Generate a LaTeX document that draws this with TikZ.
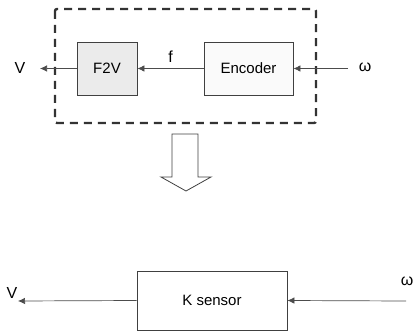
\documentclass[tikz,border=0pt]{standalone}
\usepackage{fontspec}
\setmainfont{Liberation Sans}
\usetikzlibrary{arrows.meta}
\begin{document}
\begin{tikzpicture}[x=1pt,y=-1pt,
  blk/.style={draw=black!75,line width=0.8pt,minimum width=#1,minimum height=53pt,inner sep=0pt,font=\fontsize{15}{17}\selectfont},
  conn/.style={draw=black!70,line width=0.7pt,-{Latex[length=7pt,width=6.5pt]}},
  lab/.style={font=\fontsize{16}{18}\selectfont,inner sep=0pt}]
\useasboundingbox (0,0) rectangle (417,334);
% dashed container
\draw[black!80,line width=2.4pt,dash pattern=on 8pt off 6pt,rounded corners=2pt] (55,9) rectangle (316,123);
\node[blk=60pt,fill=black!8] (f2v) at (107,68.5) {F2V};
\node[blk=89pt,fill=black!2] (enc) at (248.5,68.5) {Encoder};
\node[lab] (V1) at (20,68) {V};
\node[lab] (w1) at (365,67) {ω};
\coordinate (v1end) at (40,68.5);
\coordinate (w1start) at (348,68.5);
\draw[conn] (enc.west) -- node[lab,above=6pt] {f} (f2v.east);
\draw[conn] (f2v.west) -- (v1end);
\draw[conn] (w1start) -- (enc.east);
% block arrow
\draw[black!75,line width=0.8pt,fill=white] (172,134) -- (198,134) -- (198,177) -- (211,177) -- (186,191) -- (161,177) -- (172,177) -- cycle;
% bottom
\node[blk=150pt,minimum height=59pt] (ks) at (212,300.5) {K sensor};
\node[lab] (V2) at (12,293) {V};
\node[lab] (w2) at (407,281) {ω};
\coordinate (v2end) at (18,301);
\coordinate (w2start) at (406,301);
\draw[conn] (ks.west) -- (v2end);
\draw[conn] (w2start) -- (ks.east);
\end{tikzpicture}
\end{document}
